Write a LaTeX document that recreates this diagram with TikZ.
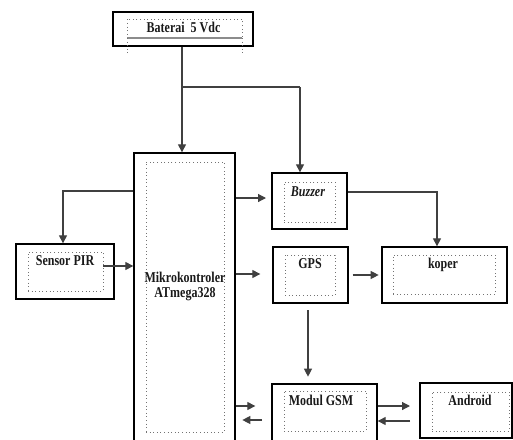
\documentclass[tikz,border=0pt]{standalone}
\usepackage{fontspec}
\setmainfont{Liberation Serif}
\usetikzlibrary{arrows.meta,fit}
\tikzset{
 outer/.style={draw=black, line width=1pt, inner sep=0pt},
 innerbox/.style={draw=black!55, dotted, line width=0.7pt, inner sep=0pt},
 lbl/.style={font=\bfseries\fontsize{9}{10}\selectfont, inner sep=0pt, text=black!90},
 conn/.style={draw=black!75, line width=0.9pt},
 arr/.style={conn, -{Triangle[length=6pt,width=6pt]}},
}
\newcommand{\tallText}[1]{\scalebox{1}[1.25]{#1}}
\begin{document}
\begin{tikzpicture}[x=0.75pt,y=-0.75pt]
\useasboundingbox (0,0) rectangle (513,439);
\clip (0,0) rectangle (513,439);
% boxes
\node[outer, fit={(113,12)(253,46)}] (bat) {};
\node[innerbox, fit={(127,19)(242,37)}] (batin) {};
\draw[black!45, line width=1.2pt] (127,38) -- (242,38);
\draw[innerbox] (127,38) -- (127,55) (242,38) -- (242,55);

\node[outer, fit={(134,153)(235,450)}] (mcu) {};
\node[innerbox, fit={(146,162)(224,432)}] (mcuin) {};

\node[outer, fit={(16,244)(114,299)}] (pir) {};
\node[innerbox, fit={(28,252)(103,291)}] (pirin) {};

\node[outer, fit={(272,173)(347,229)}] (buz) {};
\node[innerbox, fit={(284,182)(335,222)}] (buzin) {};

\node[outer, fit={(273,247)(348,303)}] (gps) {};
\node[innerbox, fit={(285,255)(335,295)}] (gpsin) {};

\node[outer, fit={(382,247)(507,303)}] (kop) {};
\node[innerbox, fit={(393,255)(495,294)}] (kopin) {};

\node[outer, fit={(272,384)(377,450)}] (gsm) {};
\node[innerbox, fit={(284,391)(366,431)}] (gsmin) {};

\node[outer, fit={(420,383)(512,438)}] (and) {};
\node[innerbox, fit={(432,392)(509,431)}] (andin) {};

% labels
\node[lbl] (batl) at (183.5,27) {\tallText{Baterai\ \ 5 Vdc}};
\node[lbl] (pirl) at (65,261) {\tallText{Sensor PIR}};
\node[lbl] (mcul1) at (185,277) {\tallText{Mikrokontroler}};
\node[lbl] (mcul2) at (185,294) {\tallText{ATmega328}};
\node[lbl] (buzl) at (308,192) {\tallText{\textit{Buzzer}}};
\node[lbl] (gpsl) at (310,264) {\tallText{GPS}};
\node[lbl] (kopl) at (443,265) {\tallText{koper}};
\node[lbl] (gsml) at (321,400) {\tallText{Modul GSM}};
\node[lbl] (andl) at (470,400) {\tallText{Android}};

% connectors
\coordinate (j1) at (182,87);
\coordinate (j2) at (300,87);
\draw[conn] (bat.south -| j1) -- (j1);
\draw[arr] (j1) -- (j1 |- mcu.north);
\draw[conn] (j1) -- (j2);
\draw[arr] (j2) -- (j2 |- buz.north);

\coordinate (p1) at (63,191);
\draw[arr] (mcu.west |- p1) -- (p1) -- (p1 |- pir.north);
\coordinate (p2) at (0,266);
\draw[arr] (pirin.east |- p2) -- (mcu.west |- p2);

\coordinate (b1) at (0,198);
\draw[arr] (mcu.east |- b1) -- ([xshift=-4]buz.west |- b1);
\coordinate (g1) at (0,274);
\draw[arr] (mcu.east |- g1) -- ([xshift=-9]gps.west |- g1);

\coordinate (k1) at (437,192);
\draw[arr] (buz.east |- k1) -- (k1) -- (k1 |- kop.north);
\coordinate (k2) at (0,275);
\draw[arr] ([xshift=3]gps.east |- k2) -- ([xshift=-2]kop.west |- k2);

\coordinate (s1) at (308,0);
\draw[arr] ([yshift=-5]s1 |- gps.south) -- ([yshift=5]s1 |- gsm.north);

\coordinate (m1) at (0,406);
\coordinate (m2) at (0,420);
\draw[arr] (mcu.east |- m1) -- ([xshift=-12]gsm.west |- m1);
\draw[arr] ([xshift=-7]gsm.west |- m2) -- ([xshift=5]mcu.east |- m2);
\coordinate (a2) at (0,421);
\draw[arr] (gsm.east |- m1) -- ([xshift=-7]and.west |- m1);
\draw[arr] ([xshift=-7]and.west |- a2) -- (gsm.east |- a2);
\end{tikzpicture}
\end{document}
